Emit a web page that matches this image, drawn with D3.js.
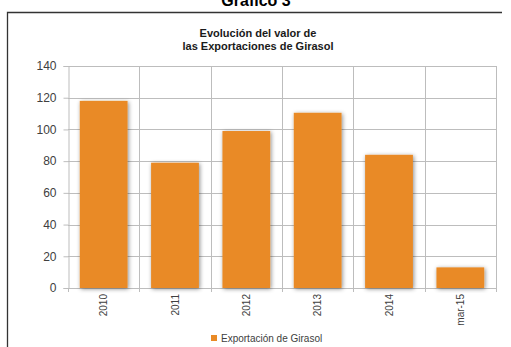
<!DOCTYPE html>
<html>
<head>
<meta charset="utf-8">
<script src="https://cdn.jsdelivr.net/npm/d3@7"></script>
<style>
  html, body { margin: 0; padding: 0; background: #ffffff; }
  svg { display: block; }
</style>
</head>
<body>
<svg id="chart" width="511" height="347"></svg>
<script>
// Sunflower export value by year
const categories = ["2010", "2011", "2012", "2013", "2014", "mar-15"];
const exportValues = [118, 79, 99, 110.5, 84, 13];
const yTicks = [0, 20, 40, 60, 80, 100, 120, 140];
const seriesName = "Exportación de Girasol";
const pageTitle = "Gráfico 3";
const chartTitle = ["Evolución del valor de", "las Exportaciones de Girasol"];

const svg = d3.select("#chart");
const font = "Arial, 'Liberation Sans', sans-serif";
const barColor = "#E98A26";
const gridColor = "#bdbdbd";

const margin = { left: 68, right: 496, top: 66, bottom: 288 };

const x = d3.scaleBand().domain(categories)
  .range([margin.left, margin.right]).paddingInner(0.33).paddingOuter(0.165);
const y = d3.scaleLinear().domain([0, 140]).range([margin.bottom, margin.top]);

// soft shadow under the bars
const defs = svg.append("defs");
const f = defs.append("filter").attr("id", "shadow")
  .attr("x", "-20%").attr("y", "-20%").attr("width", "140%").attr("height", "140%");
f.append("feDropShadow").attr("dx", 1).attr("dy", 1).attr("stdDeviation", 2.2)
  .attr("flood-color", "#000").attr("flood-opacity", 0.45);

// page heading, partly above the visible area
svg.append("text").attr("x", 256).attr("y", 6).attr("text-anchor", "middle")
  .attr("font-family", font).attr("font-weight", "bold").attr("font-size", 16)
  .attr("fill", "#000").text(pageTitle);

// frame around the chart
svg.append("path").attr("d", "M7.5,347 V12.5 H502")
  .attr("fill", "none").attr("stroke", "#333").attr("stroke-width", 1.3);

// chart title
chartTitle.forEach((t, i) => {
  svg.append("text").attr("x", 258).attr("y", 37 + i * 12.5).attr("text-anchor", "middle")
    .attr("font-family", font).attr("font-weight", "bold").attr("font-size", 11)
    .attr("fill", "#1a1a1a").text(t);
});

// horizontal gridlines
svg.append("g").selectAll("line").data(yTicks.filter(d => d > 0)).join("line")
  .attr("x1", margin.left).attr("x2", margin.right)
  .attr("y1", d => Math.round(y(d)) + 0.5).attr("y2", d => Math.round(y(d)) + 0.5)
  .attr("stroke", gridColor).attr("stroke-width", 1);

// vertical gridlines at category boundaries (extend below the axis as ticks)
const edges = d3.range(categories.length + 1)
  .map(i => margin.left + i * (margin.right - margin.left) / categories.length);
svg.append("g").selectAll("line").data(edges.slice(1)).join("line")
  .attr("x1", d => Math.round(d) + 0.5).attr("x2", d => Math.round(d) + 0.5)
  .attr("y1", margin.top).attr("y2", margin.bottom + 4)
  .attr("stroke", gridColor).attr("stroke-width", 1);

// y axis
const yAxis = svg.append("g").attr("transform", `translate(${margin.left + 0.5},0)`)
  .call(d3.axisLeft(y).tickValues(yTicks).tickSize(5).tickPadding(7));
yAxis.select(".domain").attr("stroke", gridColor);
yAxis.selectAll(".tick line").attr("stroke", gridColor);
yAxis.selectAll(".tick text").attr("font-family", font).attr("font-size", 12)
  .attr("fill", "#404040");

// x axis baseline and first tick
svg.append("line").attr("x1", margin.left).attr("x2", margin.right)
  .attr("y1", margin.bottom + 0.5).attr("y2", margin.bottom + 0.5)
  .attr("stroke", gridColor);
svg.append("line")
  .attr("x1", edges[0] + 0.5).attr("x2", edges[0] + 0.5)
  .attr("y1", margin.bottom).attr("y2", margin.bottom + 4).attr("stroke", gridColor);

// bars
svg.append("g").selectAll("rect").data(categories).join("rect")
  .attr("x", d => x(d)).attr("width", x.bandwidth())
  .attr("y", (d, i) => y(exportValues[i]))
  .attr("height", (d, i) => y(0) - y(exportValues[i]))
  .attr("fill", barColor).attr("filter", "url(#shadow)");

// category labels, rotated
svg.append("g").selectAll("text").data(categories).join("text")
  .attr("transform", d => `translate(${x(d) + x.bandwidth() / 2 + 3.5},${margin.bottom + 6}) rotate(-90)`)
  .attr("text-anchor", "end")
  .attr("font-family", font).attr("font-size", 10).attr("fill", "#404040")
  .text(d => d);

// legend
svg.append("rect").attr("x", 211).attr("y", 335).attr("width", 6).attr("height", 6)
  .attr("fill", barColor);
svg.append("text").attr("x", 221).attr("y", 342)
  .attr("font-family", font).attr("font-size", 10).attr("fill", "#404040")
  .text(seriesName);
</script>
</body>
</html>
